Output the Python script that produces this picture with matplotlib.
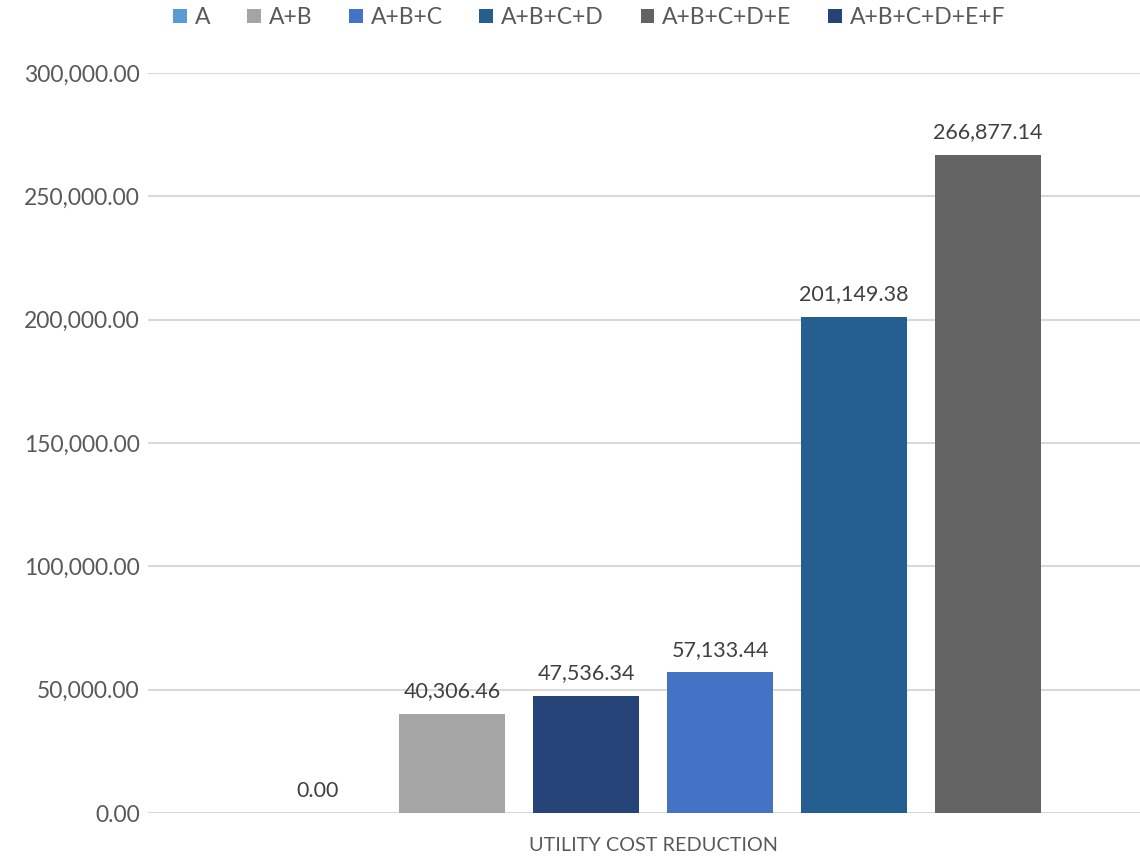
import matplotlib
matplotlib.use('Agg')
import matplotlib.pyplot as plt
from matplotlib.patches import Patch

# Bars as drawn left to right
bar_series = ['A', 'A+B', 'A+B+C+D+E+F', 'A+B+C', 'A+B+C+D', 'A+B+C+D+E']
bar_values = [0.00, 40306.46, 47536.34, 57133.44, 201149.38, 266877.14]

# Legend order and series colours
legend_series = ['A', 'A+B', 'A+B+C', 'A+B+C+D', 'A+B+C+D+E', 'A+B+C+D+E+F']
series_colors = {
    'A': '#5B9BD5',
    'A+B': '#A5A5A5',
    'A+B+C': '#4472C4',
    'A+B+C+D': '#255E91',
    'A+B+C+D+E': '#636363',
    'A+B+C+D+E+F': '#264478',
}
category = 'UTILITY COST REDUCTION'
y_ticks = [0, 50000, 100000, 150000, 200000, 250000, 300000]

TEXT = '#595959'
plt.rcParams['font.family'] = ['Lato', 'DejaVu Sans']

fig = plt.figure(figsize=(11.4, 8.56), dpi=100)
ax = fig.add_axes([0.1298, 0.0502, 0.8702, 0.8645])

xs = list(range(len(bar_values)))
for x, name, val in zip(xs, bar_series, bar_values):
    ax.bar(x, val, width=0.79, color=series_colors[name], zorder=3)
    ax.annotate(f'{val:,.2f}', (x, val), xytext=(0, 9), textcoords='offset points',
                ha='center', va='bottom', fontsize=15.5, color='#404040')

ax.set_xlim(-1.269, 6.134)
ax.set_ylim(0, 300000)
ax.set_yticks(y_ticks)
ax.set_yticklabels([f'{v:,.2f}' for v in y_ticks])
ax.yaxis.grid(True, color='#D9D9D9', linewidth=1.5, zorder=0)
ax.set_axisbelow(True)
ax.tick_params(axis='y', length=0, pad=6, labelsize=16.5, labelcolor=TEXT)
ax.set_xticks([2.5])
ax.set_xticklabels([category])
ax.tick_params(axis='x', length=0, pad=17, labelsize=14.3, labelcolor=TEXT)
for s in ax.spines.values():
    s.set_visible(False)

handles = [Patch(facecolor=series_colors[n], edgecolor='none') for n in legend_series]
fig.legend(handles, legend_series, loc='upper center', bbox_to_anchor=(0.517, 1.016),
           ncol=6, frameon=False, fontsize=16.5, labelcolor=TEXT,
           handlelength=0.6, handleheight=0.6, handletextpad=0.35, columnspacing=1.6)

fig.savefig('out.png', dpi=100)
